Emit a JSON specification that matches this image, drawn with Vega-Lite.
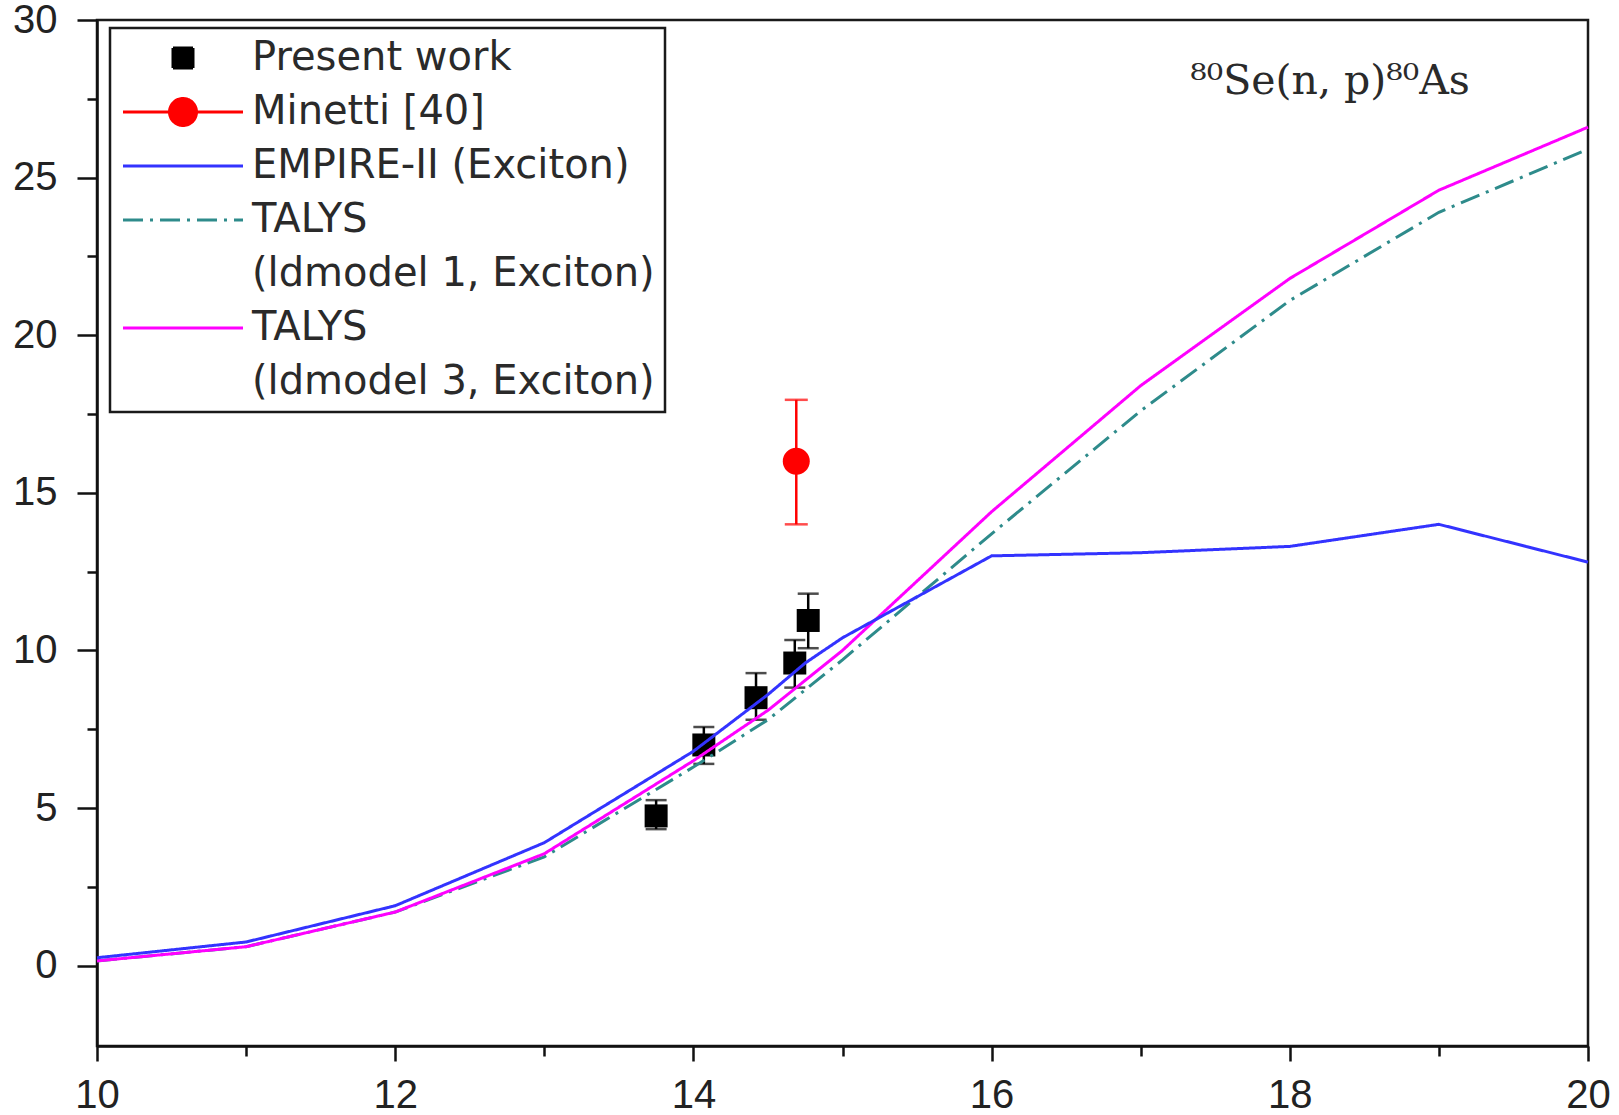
{
  "$schema": "https://vega.github.io/schema/vega-lite/v6.json",
  "width": 1491,
  "height": 1026,
  "autosize": {"type": "none"},
  "padding": {"left": 97, "top": 20, "right": 31, "bottom": 69},
  "background": "white",
  "config": {
    "view": {"stroke": "#1a1a1a", "strokeWidth": 2.5},
    "style": {"guide-label": {"lineHeight": 54}},
    "legend": {"strokeWidth": 2.5},
    "axis": {
      "grid": false,
      "labelFont": "Liberation Sans",
      "labelFontSize": 40,
      "labelColor": "#222222",
      "labelFlush": false,
      "labelOverlap": false,
      "domainColor": "#111111",
      "domainWidth": 2.5,
      "tickColor": "#111111",
      "tickWidth": 2.5
    }
  },
  "datasets": {
    "present": [
      {"energy": 13.75, "xs": 4.75, "lo": 4.33, "hi": 5.25, "series": "Present work"},
      {"energy": 14.07, "xs": 7.0, "lo": 6.4, "hi": 7.57, "series": "Present work"},
      {"energy": 14.42, "xs": 8.5, "lo": 7.8, "hi": 9.28, "series": "Present work"},
      {"energy": 14.68, "xs": 9.6, "lo": 8.82, "hi": 10.33, "series": "Present work"},
      {"energy": 14.77, "xs": 10.95, "lo": 10.07, "hi": 11.8, "series": "Present work"}
    ],
    "minetti": [
      {"energy": 14.69, "xs": 16.0, "lo": 14.0, "hi": 17.95, "series": "Minetti [40]"}
    ],
    "models": [
      {"energy": 10, "xs": 0.25, "series": "EMPIRE-II (Exciton)"},
      {"energy": 11, "xs": 0.75, "series": "EMPIRE-II (Exciton)"},
      {"energy": 12, "xs": 1.9, "series": "EMPIRE-II (Exciton)"},
      {"energy": 13, "xs": 3.9, "series": "EMPIRE-II (Exciton)"},
      {"energy": 14, "xs": 6.8, "series": "EMPIRE-II (Exciton)"},
      {"energy": 14.5, "xs": 8.6, "series": "EMPIRE-II (Exciton)"},
      {"energy": 14.75, "xs": 9.6, "series": "EMPIRE-II (Exciton)"},
      {"energy": 15, "xs": 10.4, "series": "EMPIRE-II (Exciton)"},
      {"energy": 16, "xs": 13.0, "series": "EMPIRE-II (Exciton)"},
      {"energy": 17, "xs": 13.1, "series": "EMPIRE-II (Exciton)"},
      {"energy": 18, "xs": 13.3, "series": "EMPIRE-II (Exciton)"},
      {"energy": 19, "xs": 14.0, "series": "EMPIRE-II (Exciton)"},
      {"energy": 20, "xs": 12.8, "series": "EMPIRE-II (Exciton)"},
      {"energy": 10, "xs": 0.15, "series": "TALYS (ldmodel 1, Exciton)"},
      {"energy": 11, "xs": 0.6, "series": "TALYS (ldmodel 1, Exciton)"},
      {"energy": 12, "xs": 1.7, "series": "TALYS (ldmodel 1, Exciton)"},
      {"energy": 13, "xs": 3.45, "series": "TALYS (ldmodel 1, Exciton)"},
      {"energy": 14, "xs": 6.3, "series": "TALYS (ldmodel 1, Exciton)"},
      {"energy": 14.5, "xs": 7.8, "series": "TALYS (ldmodel 1, Exciton)"},
      {"energy": 15, "xs": 9.7, "series": "TALYS (ldmodel 1, Exciton)"},
      {"energy": 16, "xs": 13.7, "series": "TALYS (ldmodel 1, Exciton)"},
      {"energy": 17, "xs": 17.6, "series": "TALYS (ldmodel 1, Exciton)"},
      {"energy": 18, "xs": 21.1, "series": "TALYS (ldmodel 1, Exciton)"},
      {"energy": 19, "xs": 23.9, "series": "TALYS (ldmodel 1, Exciton)"},
      {"energy": 20, "xs": 25.9, "series": "TALYS (ldmodel 1, Exciton)"},
      {"energy": 10, "xs": 0.15, "series": "TALYS (ldmodel 3, Exciton)"},
      {"energy": 11, "xs": 0.6, "series": "TALYS (ldmodel 3, Exciton)"},
      {"energy": 12, "xs": 1.7, "series": "TALYS (ldmodel 3, Exciton)"},
      {"energy": 13, "xs": 3.55, "series": "TALYS (ldmodel 3, Exciton)"},
      {"energy": 14, "xs": 6.5, "series": "TALYS (ldmodel 3, Exciton)"},
      {"energy": 14.5, "xs": 8.1, "series": "TALYS (ldmodel 3, Exciton)"},
      {"energy": 15, "xs": 10.0, "series": "TALYS (ldmodel 3, Exciton)"},
      {"energy": 16, "xs": 14.4, "series": "TALYS (ldmodel 3, Exciton)"},
      {"energy": 17, "xs": 18.4, "series": "TALYS (ldmodel 3, Exciton)"},
      {"energy": 18, "xs": 21.8, "series": "TALYS (ldmodel 3, Exciton)"},
      {"energy": 19, "xs": 24.6, "series": "TALYS (ldmodel 3, Exciton)"},
      {"energy": 20, "xs": 26.6, "series": "TALYS (ldmodel 3, Exciton)"}
    ],
    "label": [{"text": "⁸⁰Se(n, p)⁸⁰As"}]
  },
  "layer": [
    {
      "data": {"name": "present"},
      "mark": {"type": "point", "filled": true, "size": 529, "opacity": 1},
      "encoding": {
        "x": {
          "field": "energy", "type": "quantitative",
          "scale": {"domain": [10, 20], "nice": false, "zero": false},
          "axis": {
            "title": null,
            "values": [10, 11, 12, 13, 14, 15, 16, 17, 18, 19, 20],
            "labelExpr": "datum.value % 2 === 0 ? format(datum.value, 'd') : ''",
            "tickSize": {"condition": {"test": "datum.value % 2 === 0", "value": 15}, "value": 10},
            "labelPadding": 14
          }
        },
        "y": {
          "field": "xs", "type": "quantitative",
          "scale": {"domain": [-2.55, 30], "nice": false, "zero": false},
          "axis": {
            "title": null,
            "values": [0, 2.5, 5, 7.5, 10, 12.5, 15, 17.5, 20, 22.5, 25, 27.5, 30],
            "labelExpr": "datum.value % 5 === 0 ? format(datum.value, 'd') : ''",
            "tickSize": {"condition": {"test": "datum.value % 5 === 0", "value": 20}, "value": 10},
            "labelPadding": 20
          }
        },
        "shape": {
          "field": "series", "type": "nominal",
          "scale": {
            "domain": ["Present work", "Minetti [40]", "EMPIRE-II (Exciton)", "TALYS (ldmodel 1, Exciton)", "TALYS (ldmodel 3, Exciton)"],
            "range": ["M-1,-1H1V1H-1Z", "M-6,0H6M1.35,0A1.35,1.35 0 1,1 -1.35,0A1.35,1.35 0 1,1 1.35,0Z", "M-6,0H6", "M-6,0H6", "M-6,0H6"]
          }
        },
        "color": {
          "field": "series", "type": "nominal",
          "scale": {
            "domain": ["Present work", "Minetti [40]", "EMPIRE-II (Exciton)", "TALYS (ldmodel 1, Exciton)", "TALYS (ldmodel 3, Exciton)"],
            "range": ["#000000", "#ff0000", "#3333ff", "#2e8b8b", "#ff00ff"]
          },
          "legend": {
            "title": null,
            "orient": "none",
            "legendX": 13,
            "legendY": 8,
            "padding": 10,
            "strokeColor": "#1a1a1a",
            "fillColor": "white",
            "symbolSize": 400,
            "symbolStrokeWidth": 3,
            "symbolOpacity": 1,
            "symbolOffset": 43,
            "labelOffset": 49,
            "labelFont": "DejaVu Sans",
            "labelFontSize": 40,
            "labelColor": "#2a2a2a",
            "labelLimit": 800,
            "rowPadding": 14,
            "labelExpr": "indexof(datum.label, 'TALYS (') === 0 ? ['TALYS', substring(datum.label, 6)] : datum.label"
          }
        }
      }
    },
    {
      "data": {"name": "present"},
      "mark": {"type": "rule", "color": "#000000", "strokeWidth": 2.5},
      "encoding": {
        "x": {"field": "energy", "type": "quantitative", "axis": {"title": null}},
        "y": {"field": "lo", "type": "quantitative", "axis": {"title": null}},
        "y2": {"field": "hi"}
      }
    },
    {
      "data": {"name": "present"},
      "mark": {"type": "tick", "orient": "horizontal", "color": "#000000", "size": 21, "thickness": 2.5},
      "encoding": {
        "x": {"field": "energy", "type": "quantitative", "axis": {"title": null}},
        "y": {"field": "lo", "type": "quantitative", "axis": {"title": null}}
      }
    },
    {
      "data": {"name": "present"},
      "mark": {"type": "tick", "orient": "horizontal", "color": "#000000", "size": 21, "thickness": 2.5},
      "encoding": {
        "x": {"field": "energy", "type": "quantitative", "axis": {"title": null}},
        "y": {"field": "hi", "type": "quantitative", "axis": {"title": null}}
      }
    },
    {
      "data": {"name": "minetti"},
      "mark": {"type": "rule", "color": "#ff0000", "strokeWidth": 2.5},
      "encoding": {
        "x": {"field": "energy", "type": "quantitative", "axis": {"title": null}},
        "y": {"field": "lo", "type": "quantitative", "axis": {"title": null}},
        "y2": {"field": "hi"}
      }
    },
    {
      "data": {"name": "minetti"},
      "mark": {"type": "tick", "orient": "horizontal", "color": "#ff0000", "size": 23, "thickness": 2.5},
      "encoding": {
        "x": {"field": "energy", "type": "quantitative", "axis": {"title": null}},
        "y": {"field": "lo", "type": "quantitative", "axis": {"title": null}}
      }
    },
    {
      "data": {"name": "minetti"},
      "mark": {"type": "tick", "orient": "horizontal", "color": "#ff0000", "size": 23, "thickness": 2.5},
      "encoding": {
        "x": {"field": "energy", "type": "quantitative", "axis": {"title": null}},
        "y": {"field": "hi", "type": "quantitative", "axis": {"title": null}}
      }
    },
    {
      "data": {"name": "minetti"},
      "mark": {"type": "point", "shape": "circle", "filled": true, "size": 729, "opacity": 1},
      "encoding": {
        "x": {"field": "energy", "type": "quantitative", "axis": {"title": null}},
        "y": {"field": "xs", "type": "quantitative", "axis": {"title": null}},
        "color": {"field": "series", "type": "nominal"}
      }
    },
    {
      "data": {"name": "models"},
      "transform": [{"filter": "datum.series === 'TALYS (ldmodel 1, Exciton)'"}],
      "mark": {"type": "line", "strokeWidth": 3},
      "encoding": {
        "x": {"field": "energy", "type": "quantitative", "axis": {"title": null}},
        "y": {"field": "xs", "type": "quantitative", "axis": {"title": null}},
        "color": {"field": "series", "type": "nominal"},
        "strokeDash": {
          "field": "series", "type": "nominal",
          "scale": {
            "domain": ["Present work", "Minetti [40]", "EMPIRE-II (Exciton)", "TALYS (ldmodel 1, Exciton)", "TALYS (ldmodel 3, Exciton)"],
            "range": [[1, 0], [1, 0], [1, 0], [20, 7, 3, 7], [1, 0]]
          }
        }
      }
    },
    {
      "data": {"name": "models"},
      "transform": [{"filter": "datum.series === 'TALYS (ldmodel 3, Exciton)'"}],
      "mark": {"type": "line", "strokeWidth": 3},
      "encoding": {
        "x": {"field": "energy", "type": "quantitative", "axis": {"title": null}},
        "y": {"field": "xs", "type": "quantitative", "axis": {"title": null}},
        "color": {"field": "series", "type": "nominal"},
        "strokeDash": {"field": "series", "type": "nominal"}
      }
    },
    {
      "data": {"name": "models"},
      "transform": [{"filter": "datum.series === 'EMPIRE-II (Exciton)'"}],
      "mark": {"type": "line", "strokeWidth": 3},
      "encoding": {
        "x": {"field": "energy", "type": "quantitative", "axis": {"title": null}},
        "y": {"field": "xs", "type": "quantitative", "axis": {"title": null}},
        "color": {"field": "series", "type": "nominal"},
        "strokeDash": {"field": "series", "type": "nominal"}
      }
    },
    {
      "data": {"name": "label"},
      "mark": {"type": "text", "font": "DejaVu Serif", "fontSize": 41, "color": "#2a2a2a", "align": "center", "baseline": "alphabetic"},
      "encoding": {
        "x": {"datum": 18.27, "type": "quantitative"},
        "y": {"datum": 27.65, "type": "quantitative"},
        "text": {"field": "text"}
      }
    }
  ]
}
